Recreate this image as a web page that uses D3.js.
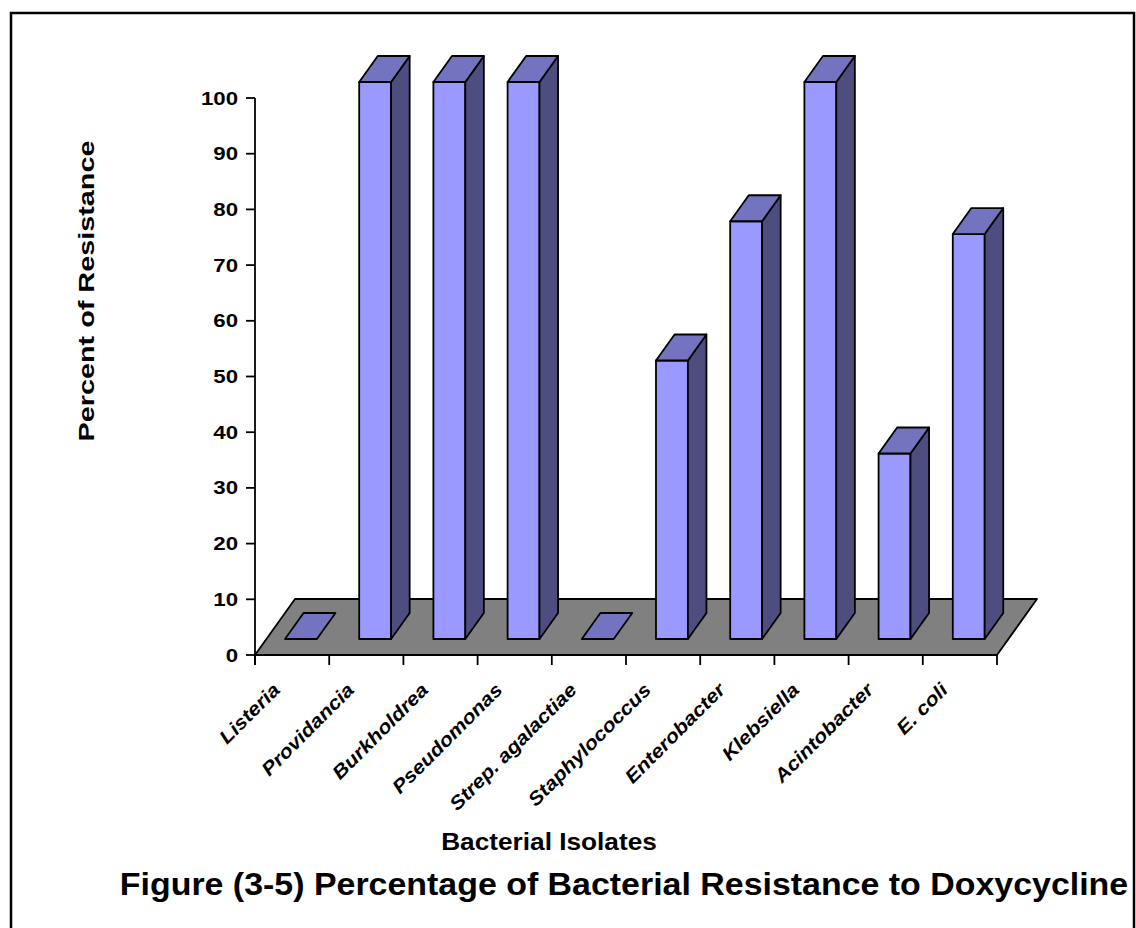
<!DOCTYPE html>
<html>
<head>
<meta charset="utf-8">
<script src="https://cdn.jsdelivr.net/npm/d3@7"></script>
<style>
  html, body { margin: 0; padding: 0; background: #fff; }
  svg { display: block; }
  text { font-family: "Liberation Sans", Arial, sans-serif; font-weight: bold; fill: #000; }
</style>
</head>
<body>
<svg id="chart" width="1136" height="928"></svg>
<script>
// Bacterial isolates and their percentage of resistance to doxycycline
const categories = ["Listeria", "Providancia", "Burkholdrea", "Pseudomonas", "Strep. agalactiae",
  "Staphylococcus", "Enterobacter", "Klebsiella", "Acintobacter", "E. coli"];
const resistance = [0, 100, 100, 100, 0, 50, 75, 100, 33.3, 72.7];
const yTicks = [0, 10, 20, 30, 40, 50, 60, 70, 80, 90, 100];
const yTitle = "Percent of Resistance";
const xTitle = "Bacterial Isolates";
const figTitle = "Figure (3-5) Percentage of Bacterial Resistance to Doxycycline";

const svg = d3.select("#chart");

// frame around the figure
svg.append("rect")
  .attr("x", 11).attr("y", 13).attr("width", 1123).attr("height", 940)
  .attr("fill", "none").attr("stroke", "#000").attr("stroke-width", 2.5);

// front plane scales
const x = d3.scaleBand().domain(categories).range([255, 997]).paddingInner(0).paddingOuter(0);
const y = d3.scaleLinear().domain([0, 100]).range([655, 98]);

// oblique depth projection: z in [0,1] runs from front edge to back edge of the floor
const depth = { dx: 40, dy: -56 };
const P = (px, py, z) => [px + z * depth.dx, py + z * depth.dy];
const poly = pts => "M" + pts.map(p => p.join(",")).join("L") + "Z";

const z0 = 0.286, z1 = 0.75;          // bar front / back planes
const barOff = 0.25, barW = 0.43;      // bar position within a category band

const applyStroke = sel => sel.attr("stroke", "#000").attr("stroke-width", 1.8)
  .attr("stroke-linejoin", "round");

// floor
const [x0, x1] = x.range();
applyStroke(svg.append("path")
  .attr("d", poly([P(x0, y(0), 0), P(x1, y(0), 0), P(x1, y(0), 1), P(x0, y(0), 1)]))
  .attr("fill", "#808080"));

// bars
const bars = svg.append("g").selectAll("g").data(categories.map((c, i) => ({ c, v: resistance[i] })))
  .join("g");

bars.each(function (d) {
  const g = d3.select(this);
  const bw = x.bandwidth();
  const L = x(d.c) + barOff * bw, R = L + barW * bw;
  const b = y(0), t = y(d.v);
  if (d.v > 0) {
    // front face
    applyStroke(g.append("path").attr("d", poly([P(L, b, z0), P(R, b, z0), P(R, t, z0), P(L, t, z0)]))
      .attr("fill", "#9999FF"));
    // right side face
    applyStroke(g.append("path").attr("d", poly([P(R, b, z0), P(R, b, z1), P(R, t, z1), P(R, t, z0)]))
      .attr("fill", "#4D4D80"));
  }
  // top face
  applyStroke(g.append("path").attr("d", poly([P(L, t, z0), P(R, t, z0), P(R, t, z1), P(L, t, z1)]))
    .attr("fill", "#7373BF"));
});

// text helper: bold lettering, widened along its own baseline
function label(parent, str, tx, ty, rot, size, sx, anchor, italic) {
  return parent.append("text")
    .attr("transform", `translate(${tx},${ty}) rotate(${rot}) scale(${sx},1)`)
    .attr("text-anchor", anchor)
    .attr("font-size", size)
    .attr("font-style", italic ? "italic" : "normal")
    .text(str);
}

// y axis
const yAxis = svg.append("g");
yAxis.append("line").attr("x1", 255).attr("x2", 255).attr("y1", y(100)).attr("y2", 665)
  .attr("stroke", "#000").attr("stroke-width", 1.8);
yTicks.forEach(v => {
  yAxis.append("line").attr("x1", 246).attr("x2", 255).attr("y1", y(v)).attr("y2", y(v))
    .attr("stroke", "#000").attr("stroke-width", 1.8);
  label(yAxis, v, 238, y(v) + 6.5, 0, 17.5, 1.27, "end", false);
});

// x axis ticks along the front edge of the floor
const xAxis = svg.append("g");
const edges = categories.map(c => x(c)).concat([x1]);
edges.forEach(e => {
  xAxis.append("line").attr("x1", e).attr("x2", e).attr("y1", y(0)).attr("y2", y(0) + 10)
    .attr("stroke", "#000").attr("stroke-width", 1.8);
});
categories.forEach(c => {
  label(xAxis, c, x(c) + x.bandwidth() / 2 - 11, 691, -45, 19, 1.13, "end", true);
});

// titles
label(svg, yTitle, 94, 291, -90, 22, 1.31, "middle", false);
label(svg, xTitle, 549, 850, 0, 23, 1.14, "middle", false);
label(svg, figTitle, 624, 895, 0, 32, 1.06, "middle", false);
</script>
</body>
</html>
